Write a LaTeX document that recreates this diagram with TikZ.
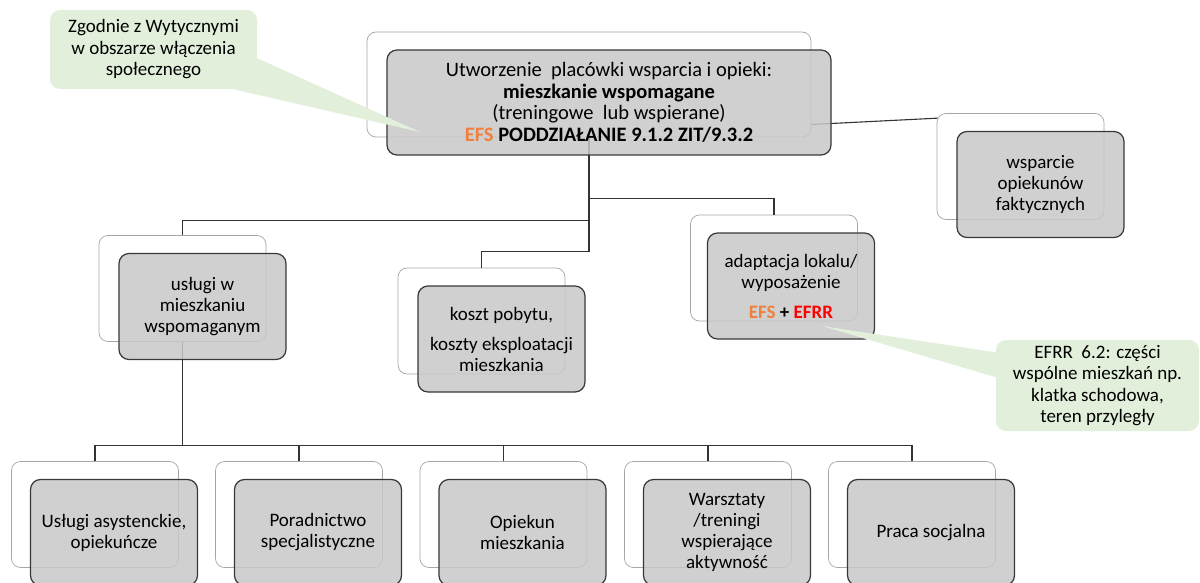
\documentclass[tikz,border=0pt]{standalone}
\usepackage{fontspec}
\setmainfont{Carlito}
\definecolor{efsorange}{RGB}{240,128,60}
\definecolor{efrrred}{RGB}{255,0,0}
\definecolor{notegreen}{RGB}{226,239,218}
\definecolor{boxgray}{RGB}{200,200,200}

\begin{document}
\begin{tikzpicture}[x=1pt, y=-1pt]
	\tikzstyle{backbox} = [draw=black!35, line width=0.7pt, fill=white, rounded corners=9pt, minimum width=167pt, minimum height=106pt]
	\tikzstyle{frontbox} = [draw=black!78, line width=1.2pt, fill=boxgray, fill opacity=0.85, text opacity=1, rounded corners=10pt, minimum width=167pt, minimum height=106pt, align=center, font=\fontsize{19}{21}\selectfont]
	\tikzstyle{note} = [fill=notegreen, rounded corners=10pt, align=center, font=\fontsize{19}{21.5}\selectfont]
	\tikzstyle{link} = [draw=black!80, line width=1.1pt]

	\useasboundingbox (0,0) rectangle (1200,583);

	% Define nodes
	\node[backbox, minimum width=444pt, minimum height=105pt] (M0) at (589,84.5) {};
	\node[backbox] (W0) at (1020.5,166.5) {};
	\node[backbox] (U0) at (182.5,288.5) {};
	\node[backbox] (K0) at (481.5,321) {};
	\node[backbox] (A0) at (774,268) {};
	\node[backbox] (L0) at (95,514.5) {};
	\node[backbox] (R0) at (299,514.5) {};
	\node[backbox] (O0) at (503.5,514.5) {};
	\node[backbox] (Z0) at (708,514.5) {};
	\node[backbox] (S0) at (912,514.5) {};

	% Draw edges
	\draw[link] (U0.north) -- ++(0,-15) -| (M0.south);
	\draw[link] (K0.north) -- ++(0,-16) -| (M0.south);
	\draw[link] (A0.north) -- ++(0,-16) -| (M0.south);
	\draw[link] ([shift={(0,40)}]M0.east) -- ([shift={(1,5)}]W0.north west);
	\draw[link] (L0.north) -- ++(0,-16) -| (U0.south);
	\draw[link] (R0.north) -- ++(0,-16) -| (U0.south);
	\draw[link] (O0.north) -- ++(0,-16) -| (U0.south);
	\draw[link] (Z0.north) -- ++(0,-16) -| (U0.south);
	\draw[link] (S0.north) -- ++(0,-16) -| (U0.south);

	% Front boxes
	\node[frontbox, minimum width=444pt, minimum height=105pt, font=\fontsize{20.5}{21.5}\selectfont] (M1) at ([shift={(20,18)}]M0.center)
		{Utworzenie\ \ placówki wsparcia i opieki:\\ \textbf{mieszkanie wspomagane}\\ (treningowe\ \ lub wspierane)\\ \textbf{\textcolor{efsorange}{EFS} PODDZIAŁANIE 9.1.2 ZIT/9.3.2}};
	\node[frontbox] (W1) at ([shift={(20,18)}]W0.center) {wsparcie\\ opiekunów\\ faktycznych};
	\node[frontbox] (U1) at ([shift={(20,18)}]U0.center) {usługi w\\ mieszkaniu\\ wspomaganym};
	\node[frontbox] (K1) at ([shift={(20,18)}]K0.center) {koszt pobytu,\\[9pt] koszty eksploatacji\\ mieszkania};
	\node[frontbox] (A1) at ([shift={(17,18)}]A0.center) {adaptacja lokalu/\\ wyposażenie\\[9pt] \textbf{\textcolor{efsorange}{EFS} + \textcolor{efrrred}{EFRR}}};
	\node[frontbox] (L1) at ([shift={(19,18)}]L0.center) {Usługi asystenckie,\\ opiekuńcze};
	\node[frontbox] (R1) at ([shift={(19,18)}]R0.center) {Poradnictwo\\ specjalistyczne};
	\node[frontbox] (O1) at ([shift={(19,18)}]O0.center) {Opiekun\\ mieszkania};
	\node[frontbox] (Z1) at ([shift={(19,18)}]Z0.center) {Warsztaty\\ /treningi\\ wspierające\\ aktywność};
	\node[frontbox] (S1) at ([shift={(19,18)}]S0.center) {Praca socjalna};

	% Callouts
	\node[note, minimum width=207pt, minimum height=79pt] (C1) at (153.5,49.5) {Zgodnie z Wytycznymi\\ w obszarze włączenia\\ społecznego};
	\coordinate (C1tip) at (420,132);
	\fill[notegreen] ([shift={(0,-31)}]C1.south east) -- (C1tip) -- ([shift={(-24,0)}]C1.south east) -- cycle;

	\node[note, minimum width=203pt, minimum height=91pt] (C2) at (1097.5,385.5) {EFRR\ \ 6.2: części\\ wspólne mieszkań np.\\ klatka schodowa,\\ teren przyległy};
	\coordinate (C2tip) at (822,326);
	\fill[notegreen] ([shift={(1,-33)}]C2.west) -- (C2tip) -- ([shift={(1,-8)}]C2.west) -- cycle;
\end{tikzpicture}
\end{document}
